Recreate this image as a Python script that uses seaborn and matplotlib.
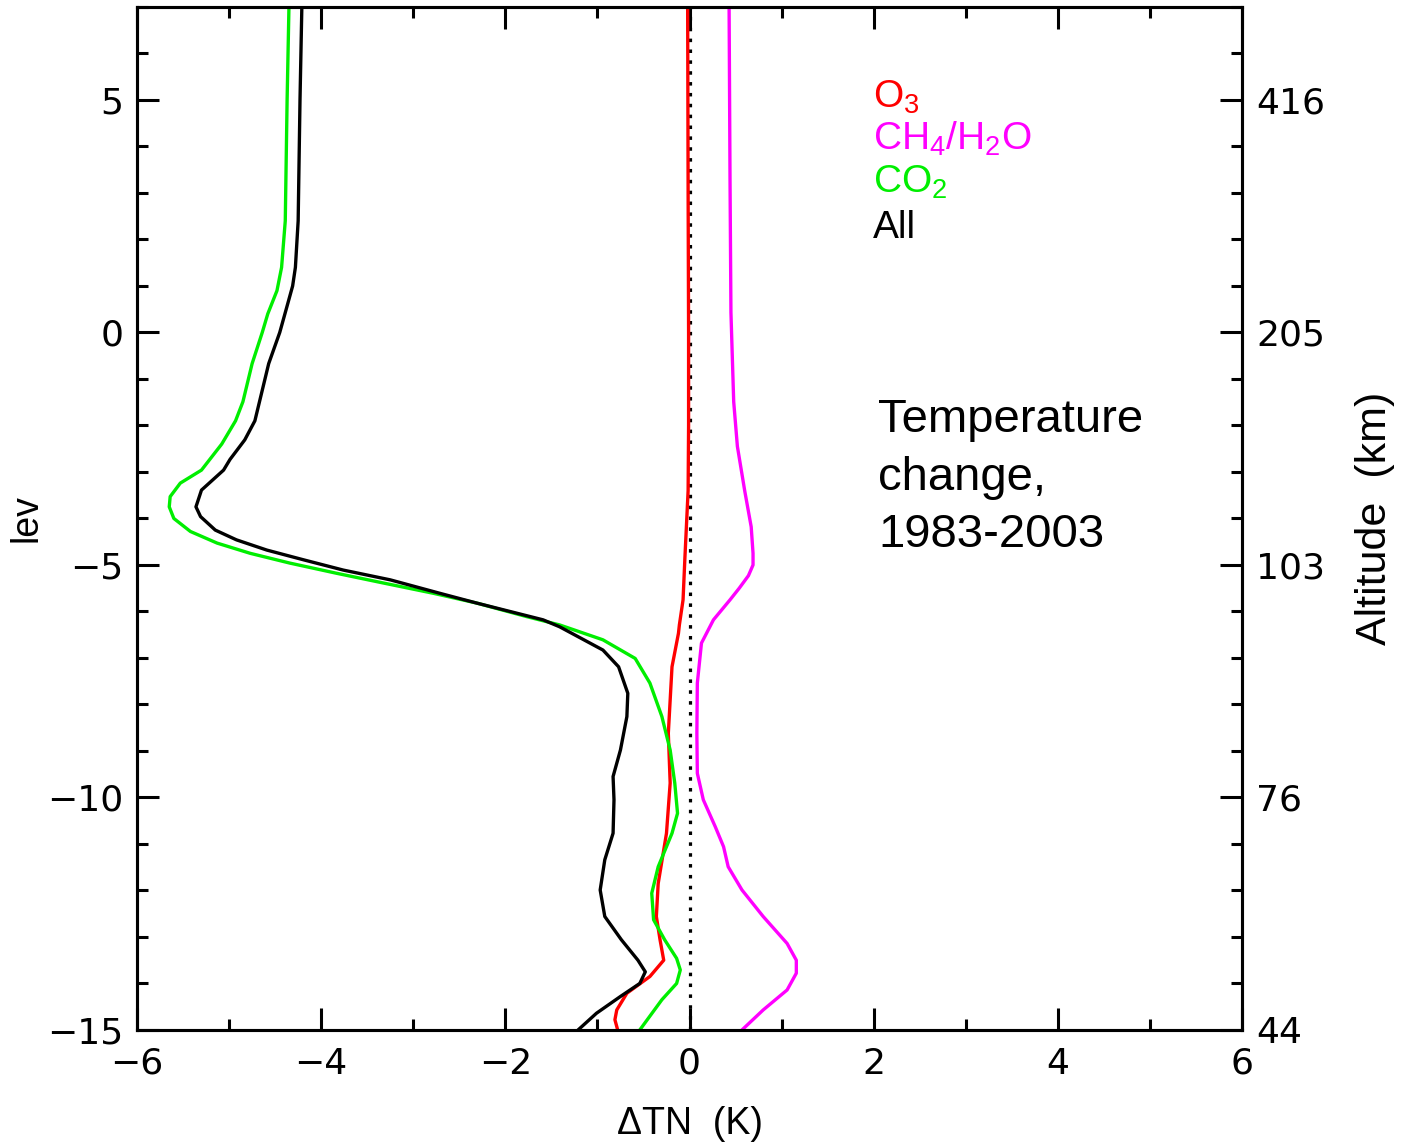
import numpy as np
import pandas as pd
import matplotlib
matplotlib.use("Agg")
import matplotlib.pyplot as plt
import seaborn as sns
from matplotlib.ticker import MultipleLocator, FixedLocator

# ---------------- data ----------------
series_names = ["O$_3$", "CH$_4$/H$_2$O", "CO$_2$", "All"]
series_colors = ["#ff0000", "#ff00ff", "#00ee00", "#000000"]

lev_o3 = [7.0, 3.0, 0.0, -2.0, -3.4, -4.85, -5.75, -6.29, -6.47, -7.19, -8.62,
          -9.69, -10.77, -11.85, -12.56, -13.06, -13.50, -13.85, -14.21, -14.57,
          -14.78, -15.0]
dt_o3 = [-0.02, -0.015, -0.01, -0.01, -0.015, -0.05, -0.07, -0.11, -0.12, -0.19,
         -0.23, -0.21, -0.25, -0.34, -0.36, -0.32, -0.28, -0.43, -0.68, -0.79,
         -0.81, -0.78]

lev_ch4 = [7.0, 3.31, 0.43, -1.49, -2.45, -3.41, -4.18, -4.75, -5.0, -5.23, -5.5,
           -5.75, -6.18, -6.68, -7.54, -8.62, -9.48, -10.05, -10.63, -11.06,
           -11.49, -11.99, -12.56, -13.14, -13.50, -13.78, -14.14, -14.57, -15.0]
dt_ch4 = [0.43, 0.44, 0.45, 0.48, 0.52, 0.60, 0.67, 0.69, 0.69, 0.64, 0.54,
          0.44, 0.26, 0.13, 0.085, 0.08, 0.085, 0.15, 0.28, 0.37,
          0.42, 0.57, 0.80, 1.06, 1.16, 1.16, 1.06, 0.80, 0.57]

lev_co2 = [7.0, 5.0, 2.4, 1.4, 0.9, 0.4, 0.0, -0.67, -1.49, -1.9, -2.4, -2.96,
           -3.24, -3.53, -3.75, -4.0, -4.28, -4.53, -4.75, -4.96, -5.18, -5.39,
           -5.61, -5.82, -6.11, -6.29, -6.61, -7.01, -7.54, -8.26, -8.98, -9.69,
           -10.34, -10.77, -11.49, -12.06, -12.63, -13.06, -13.46, -13.71, -14.0,
           -14.35, -15.0]
dt_co2 = [-4.35, -4.37, -4.39, -4.43, -4.48, -4.58, -4.64, -4.75, -4.85, -4.93,
          -5.08, -5.30, -5.53, -5.64, -5.65, -5.60, -5.42, -5.13, -4.77, -4.34,
          -3.83, -3.32, -2.78, -2.31, -1.77, -1.41, -0.94, -0.59, -0.43, -0.30,
          -0.21, -0.16, -0.13, -0.19, -0.34, -0.41, -0.39, -0.27, -0.14, -0.10,
          -0.14, -0.30, -0.54]

lev_all = [7.0, 5.0, 2.4, 1.4, 1.0, 0.57, 0.0, -0.67, -1.08, -1.9, -2.31, -2.73,
           -2.96, -3.39, -3.75, -3.96, -4.25, -4.46, -4.68, -4.89, -5.11, -5.32,
           -5.61, -5.82, -6.18, -6.33, -6.83, -7.19, -7.76, -8.26, -8.98, -9.55,
           -10.05, -10.77, -11.34, -11.99, -12.56, -13.06, -13.50, -13.75, -14.0,
           -14.28, -14.64, -15.0]
dt_all = [-4.21, -4.23, -4.25, -4.28, -4.31, -4.37, -4.45, -4.57, -4.62, -4.72,
          -4.83, -4.99, -5.06, -5.30, -5.36, -5.31, -5.15, -4.92, -4.59, -4.19,
          -3.76, -3.25, -2.71, -2.31, -1.59, -1.41, -0.94, -0.77, -0.67, -0.68,
          -0.75, -0.83, -0.82, -0.83, -0.92, -0.97, -0.92, -0.74, -0.56, -0.48,
          -0.54, -0.75, -1.01, -1.21]

x_ticks = [-6, -4, -2, 0, 2, 4, 6]
lev_ticks = [-15, -10, -5, 0, 5]
altitude_labels = ["44", "76", "103", "205", "416"]

annotation = "Temperature\nchange,\n1983-2003"

# ---------------- style ----------------
sns.set_style("ticks")
plt.rcParams["font.family"] = ["DejaVu Sans"]
plt.rcParams["mathtext.fontset"] = "custom"
plt.rcParams["mathtext.rm"] = "Liberation Sans"
plt.rcParams["mathtext.it"] = "Liberation Sans:italic"
plt.rcParams["mathtext.bf"] = "Liberation Sans:bold"
plt.rcParams["axes.linewidth"] = 2.2
plt.rcParams["axes.edgecolor"] = "black"
plt.rcParams["text.color"] = "black"
plt.rcParams["axes.labelcolor"] = "black"
plt.rcParams["xtick.color"] = "black"
plt.rcParams["ytick.color"] = "black"

frames = []
for name, lev, dt in zip(series_names,
                         [lev_o3, lev_ch4, lev_co2, lev_all],
                         [dt_o3, dt_ch4, dt_co2, dt_all]):
    frames.append(pd.DataFrame({"series": name, "lev": lev, "dT": dt}))
df = pd.concat(frames, ignore_index=True)

fig = plt.figure(figsize=(14.01, 11.43), dpi=100)
ax = fig.add_axes([0.0978, 0.0989, 0.7887, 0.8950])

ax.axvline(0, color="black", lw=2.3, ls=(0, (1.1, 2.3)), zorder=1)
sns.lineplot(data=df, x="dT", y="lev", hue="series",
             hue_order=series_names,
             palette=dict(zip(series_names, series_colors)),
             sort=False, estimator=None, lw=2.4, legend=False, ax=ax, zorder=2)

ax.set_xlim(-6, 6)
ax.set_ylim(-15, 7)
ax.xaxis.set_major_locator(FixedLocator(x_ticks))
ax.xaxis.set_minor_locator(MultipleLocator(1))
ax.yaxis.set_major_locator(FixedLocator(lev_ticks))
ax.yaxis.set_minor_locator(MultipleLocator(1))
ax.tick_params(which="both", direction="in", top=True, right=False,
               width=2.2, labelsize=26, color="black", labelcolor="black")
ax.tick_params(which="major", length=16)
ax.tick_params(which="minor", length=8)
ax.tick_params(axis="x", which="major", pad=12)
ax.tick_params(axis="y", which="major", pad=10)

ax.set_xlabel("ΔTN  (K)", fontsize=27, family="Liberation Sans", labelpad=18)
ax.set_ylabel("lev", fontsize=27, family="Liberation Sans", labelpad=2)

ax2 = ax.twinx()
ax2.set_ylim(ax.get_ylim())
ax2.yaxis.set_major_locator(FixedLocator(lev_ticks))
ax2.set_yticklabels(altitude_labels)
ax2.yaxis.set_minor_locator(MultipleLocator(1))
ax2.tick_params(which="both", direction="in", width=2.2, labelsize=26,
                color="black", labelcolor="black")
ax2.tick_params(which="major", length=16, pad=10)
ax2.tick_params(which="minor", length=8)
ax2.set_ylabel("Altitude  (km)", fontsize=31, family="Liberation Sans", labelpad=22)
for s in ax2.spines.values():
    s.set_linewidth(2.2)

# legend-like coloured labels
baselines = [108, 150, 193, 238]
for name, col, yb in zip(series_names, series_colors, baselines):
    fig.text(873 / 1401, 1 - yb / 1143, name, color=col, fontsize=28,
             family="Liberation Sans", va="baseline", ha="left")

fig.text(878 / 1401, 1 - 398 / 1143, annotation, fontsize=34, color="black",
         family="Liberation Sans", va="top", ha="left", linespacing=1.4)

fig.savefig("out.png", dpi=100)
